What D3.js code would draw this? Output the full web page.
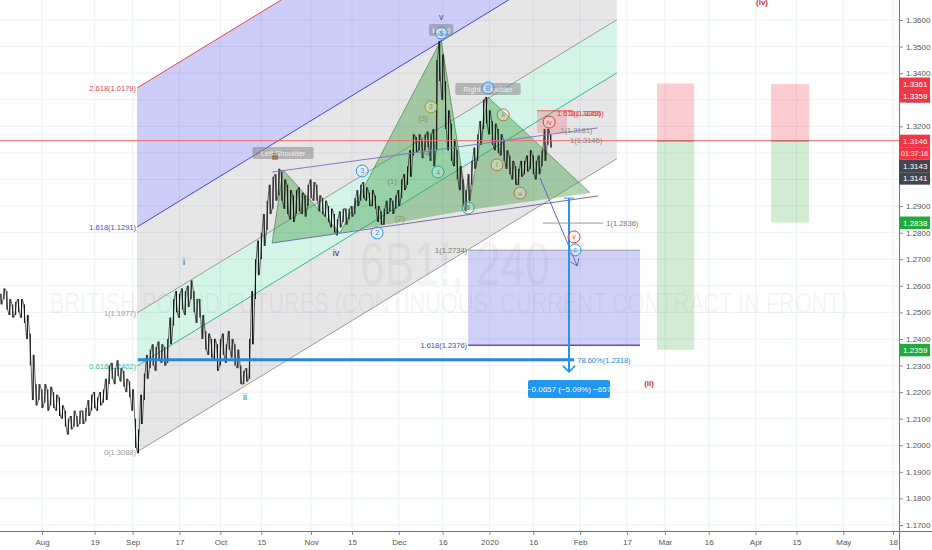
<!DOCTYPE html>
<html><head><meta charset="utf-8">
<script src="https://cdn.jsdelivr.net/npm/d3@7"></script>
<style>body{margin:0;background:#fff}svg{display:block;font-family:"Liberation Sans",Arial,sans-serif}</style>
</head><body><svg id="c" width="932" height="550"></svg>
<script>
// ---------------- DATA ----------------
const firstBarDay = "2019-07-18";
const barHighs = [1.257,1.259,1.258,1.255,1.253,1.254,1.255,1.255,1.253,1.249,1.242,1.234,1.223,1.223,1.221,1.223,1.221,1.222,1.220,1.219,
1.218,1.215,1.213,1.210,1.211,1.213,1.211,1.213,1.213,1.214,1.217,1.219,1.220,1.218,1.220,1.221,1.225,1.230,1.231,1.229,
1.232,1.229,1.228,1.225,1.224,1.221,1.210,1.206,1.219,1.227,1.234,1.236,1.238,1.237,1.239,1.238,1.237,1.240,1.248,1.255,
1.258,1.257,1.259,1.258,1.260,1.262,1.258,1.255,1.255,1.249,1.243,1.242,1.240,1.240,1.238,1.240,1.242,1.238,1.243,1.240,
1.238,1.236,1.230,1.228,1.229,1.240,1.258,1.270,1.277,1.280,1.287,1.292,1.298,1.301,1.302,1.304,1.303,1.300,1.298,1.296,
1.294,1.296,1.297,1.295,1.294,1.298,1.300,1.299,1.298,1.294,1.293,1.292,1.290,1.289,1.287,1.285,1.288,1.289,1.289,1.289,
1.290,1.293,1.296,1.298,1.299,1.297,1.295,1.296,1.294,1.290,1.288,1.289,1.292,1.293,1.292,1.294,1.296,1.300,1.302,1.305,
1.311,1.317,1.316,1.317,1.315,1.317,1.318,1.317,1.319,1.345,1.352,1.347,1.337,1.326,1.321,1.315,1.311,1.305,1.300,1.296,
1.302,1.307,1.312,1.317,1.322,1.330,1.331,1.326,1.322,1.321,1.319,1.317,1.315,1.311,1.309,1.307,1.305,1.304,1.307,1.307,
1.309,1.311,1.309,1.307,1.309,1.311,1.319,1.319,1.317];
const barLows = [1.253,1.255,1.251,1.249,1.248,1.249,1.250,1.248,1.246,1.240,1.230,1.217,1.215,1.217,1.214,1.216,1.213,1.215,1.214,1.213,
1.211,1.210,1.207,1.204,1.206,1.207,1.207,1.208,1.208,1.209,1.211,1.213,1.214,1.213,1.215,1.216,1.217,1.223,1.225,1.223,
1.226,1.224,1.222,1.220,1.218,1.213,1.199,1.197,1.208,1.217,1.225,1.229,1.230,1.228,1.232,1.231,1.230,1.231,1.238,1.245,
1.250,1.248,1.251,1.249,1.252,1.255,1.250,1.246,1.248,1.240,1.236,1.234,1.233,1.232,1.228,1.230,1.234,1.231,1.236,1.233,
1.230,1.229,1.223,1.223,1.224,1.225,1.238,1.255,1.264,1.270,1.275,1.281,1.287,1.289,1.292,1.294,1.292,1.289,1.287,1.285,
1.284,1.287,1.288,1.287,1.286,1.290,1.293,1.292,1.292,1.288,1.287,1.286,1.284,1.282,1.280,1.279,1.282,1.284,1.283,1.285,
1.286,1.287,1.290,1.292,1.293,1.292,1.290,1.290,1.289,1.284,1.283,1.283,1.287,1.288,1.287,1.289,1.290,1.293,1.296,1.298,
1.301,1.309,1.310,1.311,1.308,1.311,1.312,1.307,1.305,1.311,1.337,1.330,1.319,1.311,1.307,1.305,1.300,1.296,1.290,1.288,
1.292,1.298,1.304,1.307,1.313,1.319,1.321,1.317,1.313,1.311,1.310,1.309,1.307,1.304,1.302,1.300,1.298,1.298,1.301,1.302,
1.303,1.304,1.302,1.300,1.302,1.305,1.307,1.313,1.312];
const lastPrice = 1.3146;

const timeTicks = ["2019-08-01","2019-08-19","2019-09-01","2019-09-17","2019-10-01","2019-10-15","2019-11-01","2019-11-15","2019-12-01","2019-12-16",
"2020-01-01","2020-01-16","2020-02-01","2020-02-17","2020-03-01","2020-03-16","2020-04-01","2020-04-15","2020-05-01","2020-05-18"];
const timeTickLabels = ["Aug","19","Sep","17","Oct","15","Nov","15","Dec","16","2020","16","Feb","17","Mar","16","Apr","15","May","18"];
const priceTicks = d3.range(117,137).map(v=>v/100);

// Fib channel
const chanDates = ["2019-09-02T12:00","2020-02-13T14:00"];
const chanBase = [1.1975, 1.3078];
const chanUnit = 0.0523;
const chanLevels = [0, 0.618, 1, 1.618, 2.618];
const chanLabels = ["0(1.3088)","0.618(1.2402)","1(1.1977)","1.618(1.1291)","2.618(1.0179)"];

// Head & shoulders
const hsDates = ["2019-10-18T17:00","2019-10-22T10:00","2019-11-10T22:00","2019-12-15T12:00","2019-12-24T17:00","2019-12-31T12:00","2020-02-04T10:00"];
const hsPrices = [1.2761,1.3036,1.2799,1.3525,1.2885,1.3310,1.2949];
const hsLabels = ["Left Shoulder","Head","Right Shoulder"];

// trend lines
const upperLine = [["2019-10-18T17:00",1.3028],["2020-02-07T02:00",1.3194]];
const neckLine = [["2019-10-18T17:00",1.2761],["2020-02-07T02:00",1.2938]];
const projArrow = [["2020-01-18T07:00",1.3006],["2020-01-31T00:00",1.2675]];

// fib retracement 78.6%
const retrLine = {from:"2019-09-02T19:00", to:"2020-01-30T00:00", price:1.2322, label:"78.60%(1.2318)"};
// extension zone
const extZone = {from:"2019-12-24T17:00", to:"2020-02-21T12:00", top:1.2734, bottom:1.2376};
const extLine = {from:"2020-01-19T07:00", to:"2020-02-08T22:00", price:1.2836, label:"1(1.2836)"};
// price range measure
const measure = {date:"2020-01-28T05:00", top:1.2930, bottom:1.2276, label:"\u22120.0657 (\u22125.09%) \u2212657"};
// small zone around wave iv
const ivZone = {from:"2020-01-17T07:00", to:"2020-01-27T12:00", top:1.3254, bottom:1.3175, line:1.3258};
const ivTexts = [["1.618(1.3255)","2020-01-24T02:00",1.3250,"#e53935"],["1(1.3249)","2020-01-28T05:00",1.3250,"#e53935"],
                 ["1(1.3181)","2020-01-25T05:00",1.3183,"#888"],["1(1.3146)","2020-01-28T14:00",1.3146,"#888"]];

// short positions
const positions = [
  {from:"2020-02-27T07:00", to:"2020-03-11T00:00", entry:1.3146, stop:1.3361, target:1.2359},
  {from:"2020-04-06T07:00", to:"2020-04-19T07:00", entry:1.3146, stop:1.3359, target:1.2838}
];

// wave labels: text, date, price, colour, circled
const waveLabels = [
  ["i","2019-09-18T14:00",1.2690,"#444",false],
  ["ii","2019-10-09T10:00",1.2182,"#2e7d32",false],
  ["iii","2019-10-19T17:00",1.3085,"#333",false],
  ["iv","2019-11-09T12:00",1.2724,"#333",false],
  ["v","2019-12-15T12:00",1.3611,"#555",false],
  ["3","2019-11-18T12:00",1.3032,"#2196f3",true],
  ["2","2019-11-23T14:00",1.2799,"#2196f3",true],
  ["4","2019-12-14T10:00",1.3028,"#26a69a",true],
  ["5","2019-12-24T17:00",1.2893,"#26a69a",true],
  ["5","2019-12-15T12:00",1.3551,"#2196f3",true],
  ["B","2019-12-31T12:00",1.3344,"#2196f3",true],
  ["(1)","2019-11-28T17:00",1.2994,"#888866",false],
  ["(2)","2019-12-01T10:00",1.2855,"#888866",false],
  ["(3)","2019-12-09T07:00",1.3231,"#888866",false],
  ["(4)","2019-12-10T17:00",1.3100,"#888866",false],
  ["3","2019-12-12T00:00",1.3273,"#9e9d24",true],
  ["i","2020-01-03T14:00",1.3055,"#c0703a",true],
  ["ii","2020-01-05T17:00",1.3243,"#c0703a",true],
  ["iii","2020-01-11T12:00",1.2949,"#c0703a",true],
  ["iv","2020-01-21T10:00",1.3216,"#e53935",true],
  ["v","2020-01-29T22:00",1.2784,"#e53935",true],
  ["c","2020-01-30T07:00",1.2735,"#2196f3",true],
  ["(ii)","2020-02-24T14:00",1.2235,"#d32f2f",false],
  ["(iv)","2020-04-03T05:00",1.3668,"#d32f2f",false]
];

// right axis price tags
const priceTags = [
  ["1.3361",1.3361,"#f23645"],["1.3359",1.3359,"#f23645"],["1.3146",1.3146,"#f23645"],["01:37:16",1.3146,"#f23645"],
  ["1.3143",1.3143,"#434651"],["1.3141",1.3141,"#434651"],["1.2838",1.2838,"#22ab3c"],["1.2359",1.2359,"#22ab3c"]
];
const symbolText = "6B1!, 240";
const descText = "BRITISH POUND FUTURES (CONTINUOUS: CURRENT CONTRACT IN FRONT)";

// ---------------- DRAW ----------------
const W=932,H=550,plotR=899,plotB=531;
const D = s => new Date(s.length<=10 ? s+"T00:00Z" : s+"Z");
const x = d3.scaleUtc().domain([D("2019-08-01"),D("2020-05-18")]).range([42,893]);
const y = d3.scaleLinear().domain([1.17,1.36]).range([525,20]);
const P = (d,p)=>[x(D(d)),y(p)];

const svg = d3.select("#c");
svg.append("rect").attr("width",W).attr("height",H).attr("fill","#fff");
svg.append("defs").append("clipPath").attr("id","clip").append("rect").attr("width",plotR).attr("height",plotB);
const g = svg.append("g").attr("clip-path","url(#clip)");

// grid
g.selectAll(".hg").data(priceTicks).join("line").attr("x1",0).attr("x2",plotR)
 .attr("y1",d=>y(d)).attr("y2",d=>y(d)).attr("stroke","#edf0f5").attr("stroke-width",1);
g.selectAll(".vg").data(timeTicks).join("line").attr("y1",0).attr("y2",plotB)
 .attr("x1",d=>x(D(d))).attr("x2",d=>x(D(d))).attr("stroke","#edf0f5").attr("stroke-width",1);

// watermark
g.append("text").attr("x",455).attr("y",285).attr("text-anchor","middle").attr("font-size",62)
 .attr("textLength",190).attr("lengthAdjust","spacingAndGlyphs").attr("fill","rgba(80,80,90,0.065)").text(symbolText);
g.append("text").attr("x",449).attr("y",313).attr("text-anchor","middle").attr("font-size",29)
 .attr("textLength",798).attr("lengthAdjust","spacingAndGlyphs").attr("fill","rgba(80,80,90,0.07)").text(descText);

// fib channel
const cs=D(chanDates[0]), ce=D(chanDates[1]);
const lvl=(t,L)=>[x(t), y((t===cs?chanBase[0]:chanBase[1]) + L*chanUnit)];
const bands=[[0,0.618,"rgba(128,128,128,0.20)"],[0.618,1,"rgba(38,200,140,0.20)"],[1,1.618,"rgba(128,128,128,0.20)"],[1.618,2.618,"rgba(90,90,230,0.30)"]];
bands.forEach(([a,b,c])=>{
  g.append("polygon").attr("points",[lvl(cs,a),lvl(ce,a),lvl(ce,b),lvl(cs,b)].map(p=>p.join(",")).join(" ")).attr("fill",c);
});
const chanColors=["#9a9a9a","#35b894","#9a9a9a","#4646d8","#e0474c"];
chanLevels.forEach((L,i)=>{
  const a=lvl(cs,L), b=lvl(ce,L);
  g.append("line").attr("x1",a[0]).attr("y1",a[1]).attr("x2",b[0]).attr("y2",b[1]).attr("stroke",chanColors[i]).attr("stroke-width",1);
  g.append("text").attr("x",a[0]-1).attr("y",a[1]+3).attr("text-anchor","end").attr("font-size",7.5).attr("fill",chanColors[i]).text(chanLabels[i]);
});

// extension zone
{
  const x1=x(D(extZone.from)), x2=x(D(extZone.to)), y1=y(extZone.top), y2=y(extZone.bottom);
  g.append("rect").attr("x",x1).attr("y",y1).attr("width",x2-x1).attr("height",y2-y1).attr("fill","rgba(100,100,230,0.30)");
  g.append("line").attr("x1",x1).attr("x2",x2).attr("y1",y1).attr("y2",y1).attr("stroke","#9a9a9a");
  g.append("line").attr("x1",x1).attr("x2",x2).attr("y1",y2).attr("y2",y2).attr("stroke","#5a4fcf").attr("stroke-width",1.5);
  g.append("text").attr("x",x1-1).attr("y",y1+3).attr("text-anchor","end").attr("font-size",7.5).attr("fill","#777").text("1(1.2734)");
  g.append("text").attr("x",x1-1).attr("y",y2+3).attr("text-anchor","end").attr("font-size",7.5).attr("fill","#4a40c8").text("1.618(1.2376)");
}
// positions
positions.forEach(p=>{
  const x1=x(D(p.from)), x2=x(D(p.to));
  g.append("rect").attr("x",x1).attr("width",x2-x1).attr("y",y(p.stop)).attr("height",y(p.entry)-y(p.stop)).attr("fill","rgba(242,54,69,0.25)");
  g.append("rect").attr("x",x1).attr("width",x2-x1).attr("y",y(p.entry)).attr("height",y(p.target)-y(p.entry)).attr("fill","rgba(76,175,80,0.25)");
  g.append("line").attr("x1",x1).attr("x2",x2).attr("y1",y(p.entry)).attr("y2",y(p.entry)).attr("stroke","#777").attr("stroke-width",1.5);
});

// head & shoulders fills
const hs = hsDates.map((d,i)=>P(d,hsPrices[i]));
[[0,1,2],[2,3,4],[4,5,6]].forEach(tri=>{
  g.append("polygon").attr("points",tri.map(i=>hs[i].join(",")).join(" ")).attr("fill","rgba(67,160,71,0.42)");
});
g.append("path").attr("d",d3.line()(hs)).attr("fill","none").attr("stroke","rgba(46,125,50,0.6)").attr("stroke-width",1);

// price bars
const day0 = D(firstBarDay).getTime();
const bars = barHighs.map((h,i)=>({t:new Date(day0+i*864e5),h,l:barLows[i]}));
const zz=[];
bars.forEach((b,i)=>{const xx=x(b.t); if(i%2){zz.push([xx-0.8,y(b.l)],[xx+0.8,y(b.h)]);}else{zz.push([xx-0.8,y(b.h)],[xx+0.8,y(b.l)]);}});
g.append("path").attr("d",d3.line()(zz)).attr("fill","none").attr("stroke","#222").attr("stroke-width",0.7);
g.selectAll(".bar").data(bars).join("line").attr("x1",d=>x(d.t)).attr("x2",d=>x(d.t)).attr("y1",d=>y(d.h)).attr("y2",d=>y(d.l))
 .attr("stroke","#111").attr("stroke-width",1);

// last price line
g.append("line").attr("x1",0).attr("x2",plotR).attr("y1",y(lastPrice)).attr("y2",y(lastPrice)).attr("stroke","#ef6a6a").attr("stroke-width",1);

// trend lines
const seg=(pts,col,w)=>{const a=P(...pts[0]),b=P(...pts[1]);g.append("line").attr("x1",a[0]).attr("y1",a[1]).attr("x2",b[0]).attr("y2",b[1]).attr("stroke",col).attr("stroke-width",w);return [a,b];};
seg(upperLine,"#8a78c0",1);
seg(neckLine,"#7a6aa8",1);
{
  const [a,b]=seg(projArrow,"#5c6bc0",1);
  const ang=Math.atan2(b[1]-a[1],b[0]-a[0]);
  [ang+Math.PI*0.8, ang-Math.PI*0.8].forEach(t=>g.append("line").attr("x1",b[0]).attr("y1",b[1]).attr("x2",b[0]+8*Math.cos(t)).attr("y2",b[1]+8*Math.sin(t)).attr("stroke","#5c6bc0"));
}

// iv zone
{
  const x1=x(D(ivZone.from)), x2=x(D(ivZone.to));
  g.append("rect").attr("x",x1).attr("width",x2-x1).attr("y",y(ivZone.top)).attr("height",y(ivZone.bottom)-y(ivZone.top)).attr("fill","rgba(242,54,69,0.22)");
  g.append("line").attr("x1",x1).attr("x2",x2+6).attr("y1",y(ivZone.line)).attr("y2",y(ivZone.line)).attr("stroke","#e53935");
  ivTexts.forEach(([t,d,p,c])=>g.append("text").attr("x",x(D(d))).attr("y",y(p)+2.5).attr("font-size",7.5).attr("fill",c).text(t));
}

// retracement line
{
  const x1=x(D(retrLine.from)), x2=x(D(retrLine.to)), yy=y(retrLine.price);
  g.append("line").attr("x1",x1).attr("x2",x2).attr("y1",yy).attr("y2",yy).attr("stroke","#2a84d8").attr("stroke-width",3);
  g.append("text").attr("x",x2+3).attr("y",yy+3).attr("font-size",7.5).attr("fill","#2a84d8").text(retrLine.label);
}
// ext line
{
  const x1=x(D(extLine.from)), x2=x(D(extLine.to)), yy=y(extLine.price);
  g.append("line").attr("x1",x1).attr("x2",x2).attr("y1",yy).attr("y2",yy).attr("stroke","#9a9a9a");
  g.append("text").attr("x",x2+3).attr("y",yy+3).attr("font-size",7.5).attr("fill","#777").text(extLine.label);
}
// measure
{
  const xx=x(D(measure.date)), y1=y(measure.top), y2=y(measure.bottom);
  g.append("line").attr("x1",xx).attr("x2",xx).attr("y1",y1).attr("y2",y2).attr("stroke","#2196f3").attr("stroke-width",2);
  g.append("line").attr("x1",xx-5).attr("x2",xx+5).attr("y1",y1).attr("y2",y1).attr("stroke","#2196f3").attr("stroke-width",1);
  g.append("path").attr("d",`M${xx-6},${y2-6}L${xx},${y2}L${xx+6},${y2-6}`).attr("fill","none").attr("stroke","#2196f3").attr("stroke-width",1.5);
  g.append("rect").attr("x",xx-41).attr("y",y2+8).attr("width",82).attr("height",18).attr("rx",2).attr("fill","#2196f3");
  g.append("text").attr("x",xx).attr("y",y2+20).attr("text-anchor","middle").attr("font-size",8).attr("fill","#fff").text(measure.label);
}

// H&S labels
[[1,-16],[3,-9],[5,-7]].forEach(([i,dy],k)=>{
  const [px,py]=hs[i]; const t=hsLabels[k];
  const w=t.length*4.1+8;
  g.append("rect").attr("x",px-w/2).attr("y",py+dy-7).attr("width",w).attr("height",12).attr("rx",2).attr("fill","rgba(128,128,128,0.5)");
  g.append("text").attr("x",px).attr("y",py+dy+2).attr("text-anchor","middle").attr("font-size",7.5).attr("fill","#eee").text(t);
});

// wave labels
waveLabels.forEach(([t,d,p,c,circ])=>{
  const [px,py]=P(d,p);
  if(circ){
    g.append("circle").attr("cx",px).attr("cy",py).attr("r",6).attr("fill","rgba(255,255,255,0.25)").attr("stroke",c).attr("stroke-width",1);
    g.append("text").attr("x",px).attr("y",py+2.5).attr("text-anchor","middle").attr("font-size",t.length>2?6:7).attr("fill",c).text(t);
  } else {
    g.append("text").attr("x",px).attr("y",py+3).attr("text-anchor","middle").attr("font-size",t.startsWith("(")?8:9)
     .attr("font-weight",c==="#d32f2f"?"bold":"normal").attr("fill",c).text(t);
  }
});

// axes
const ax = svg.append("g").attr("transform",`translate(${plotR},0)`).call(d3.axisRight(y).tickValues(priceTicks).tickFormat(d3.format(".4f")).tickSize(4));
ax.select(".domain").remove();
ax.selectAll("line").attr("stroke","#888");
ax.selectAll("text").attr("font-size",8).attr("fill","#555").attr("font-family","Liberation Sans, Arial");
const bx = svg.append("g").attr("transform",`translate(0,${plotB})`).call(d3.axisBottom(x).tickValues(timeTicks.map(D)).tickFormat((d,i)=>timeTickLabels[i]).tickSize(4));
bx.select(".domain").remove();
bx.selectAll("line").attr("stroke","#888");
bx.selectAll("text").attr("font-size",8).attr("fill","#555").attr("font-family","Liberation Sans, Arial").attr("dy","0.9em");
svg.append("line").attr("x1",0).attr("x2",W).attr("y1",plotB+0.5).attr("y2",plotB+0.5).attr("stroke","#777");
svg.append("line").attr("x1",plotR+0.5).attr("x2",plotR+0.5).attr("y1",0).attr("y2",H).attr("stroke","#777");

// price tags with stacking
let lastY=-100;
priceTags.map(d=>({t:d[0],yy:y(d[1]),c:d[2]})).sort((a,b)=>a.yy-b.yy).forEach(d=>{
  let yy=Math.max(d.yy,lastY+12.5); lastY=yy;
  const long=d.t.length>6;
  svg.append("rect").attr("x",plotR).attr("y",yy-6).attr("width",long?31:31).attr("height",12.5).attr("fill",d.c);
  svg.append("text").attr("x",plotR+(long?2:4)).attr("y",yy+3).attr("font-size",long?7:8).attr("fill","#fff").text(d.t);
});
</script></body></html>
